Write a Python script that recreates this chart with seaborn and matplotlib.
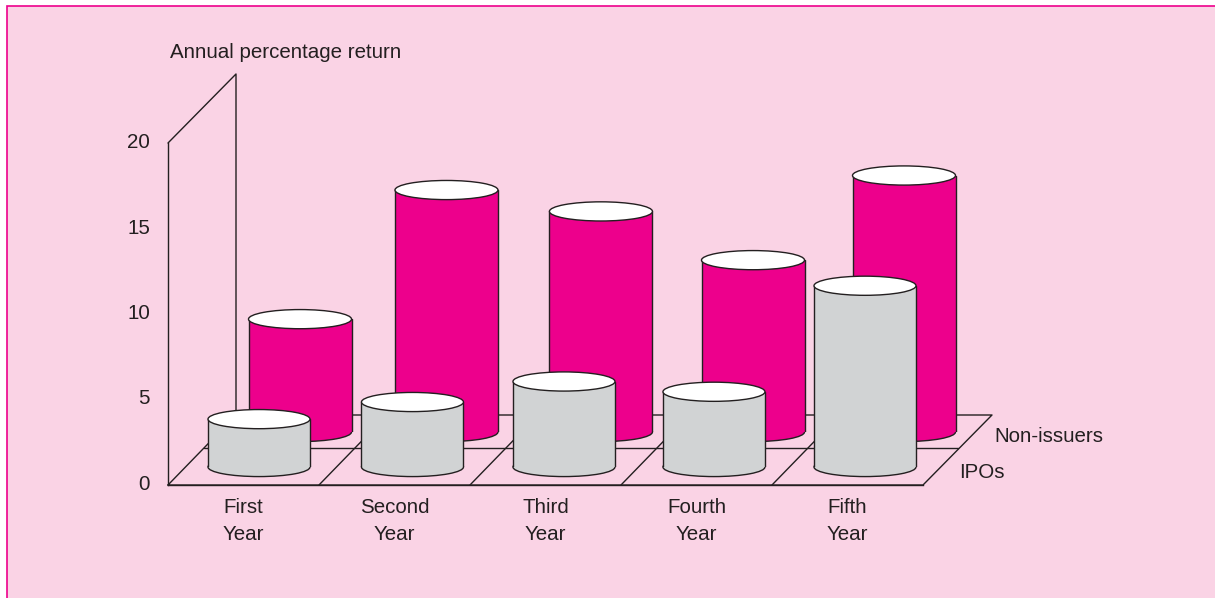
import matplotlib
matplotlib.use('Agg')
import matplotlib.pyplot as plt
from matplotlib.patches import Ellipse, Rectangle
from matplotlib.transforms import ScaledTranslation
import seaborn as sns

# values
years = ['First\nYear', 'Second\nYear', 'Third\nYear', 'Fourth\nYear', 'Fifth\nYear']
ipos = [2.8, 3.8, 5.0, 4.4, 10.6]
non_issuers = [6.6, 14.15, 12.9, 10.05, 15.0]
y_ticks = [0, 5, 10, 15, 20]

W, H = 1215, 598
INK = '#231f20'
BG = '#fad3e5'
PINK = '#ed008c'
GREY = '#d1d3d4'
LW = 1.0
FS = 14.8

sns.set_theme(style='white')
plt.rcParams['font.family'] = ['Liberation Sans', 'DejaVu Sans']

fig = plt.figure(figsize=(W / 100, H / 100), dpi=100, facecolor='white')


# axes placed by pixel box, y counted from the top like the picture
def box_axes(left, top, right, bottom):
    ax = fig.add_axes([left / W, 1 - bottom / H, (right - left) / W, (bottom - top) / H])
    ax.patch.set_alpha(0)
    return ax


# backdrop: panel, wall and floor lines
bg = box_axes(0, 0, W, H)
bg.set_xlim(0, W)
bg.set_ylim(H, 0)
bg.axis('off')
bg.add_patch(Rectangle((7, 6), W, H, facecolor=BG, edgecolor=PINK, lw=1.2))
bg.plot([168, 236, 236], [143, 74, 415], color=INK, lw=LW)
bg.plot([168, 923, 992, 236, 168], [485, 485, 415, 415, 485], color=INK, lw=LW)
bg.plot([204, 958], [448, 448], color=INK, lw=LW)
for i in range(1, 5):
    bg.plot([168 + 151 * i, 236 + 151 * i], [485, 415], color=INK, lw=LW)
bg.text(170, 53, 'Annual percentage return', color=INK, fontsize=FS, va='center')
bg.text(994, 436, 'Non-issuers', color=INK, fontsize=FS, va='center')
bg.text(959, 472, 'IPOs', color=INK, fontsize=FS, va='center')

# the real axes, front edge of wall and floor
ax = box_axes(168, 143, 923, 485)
ax.set_xlim(-0.5, 4.5)
ax.set_ylim(0, 20)
ax.set_xticks(range(len(years)), years, linespacing=1.5)
ax.set_yticks(y_ticks)
ax.tick_params(axis='x', length=0, pad=9.5, labelsize=FS, labelcolor=INK)
ax.tick_params(axis='y', length=0, pad=13, labelsize=FS, labelcolor=INK)
for t in ax.get_yticklabels():
    t.set_transform(t.get_transform() + ScaledTranslation(0, 2.5 / 100, fig.dpi_scale_trans))
sns.despine(ax=ax)
for s in ['left', 'bottom']:
    ax.spines[s].set_color(INK)
    ax.spines[s].set_linewidth(LW)


def cylinders(a, values, color, nudges, width):
    sns.barplot(x=years, y=values, color=color, saturation=1, width=width,
                edgecolor='none', ax=a, zorder=3)
    a.set_xlim(-0.5, 4.5)
    a.set_ylim(0, 20)
    a.axis('off')
    for bar, n in zip(a.patches[:len(values)], nudges):
        bar.set_x(bar.get_x() + n)
        x0, w, top = bar.get_x(), bar.get_width(), bar.get_height()
        cx = x0 + w / 2
        a.add_patch(Ellipse((cx, 0), w, 1.12, facecolor=color, edgecolor=INK, lw=LW,
                            zorder=2, clip_on=False))
        a.plot([x0, x0], [0, top], color=INK, lw=LW, zorder=4)
        a.plot([x0 + w, x0 + w], [0, top], color=INK, lw=LW, zorder=4)
        a.add_patch(Ellipse((cx, top), w, 1.12, facecolor='white', edgecolor=INK, lw=LW, zorder=5))


# back row then front row, each on its own floor line
back = box_axes(224.5, 432 - 342, 979.5, 432)
cylinders(back, non_issuers, PINK, [0, -0.03, -0.007, 0, 0], 103 / 151)
front = box_axes(183.25, 467 - 342, 940.75, 467)
cylinders(front, ipos, GREY, [0, 0.013, 0.013, 0.003, 0], 102 / 151.5)

fig.savefig('out.png', dpi=100, facecolor='white')
